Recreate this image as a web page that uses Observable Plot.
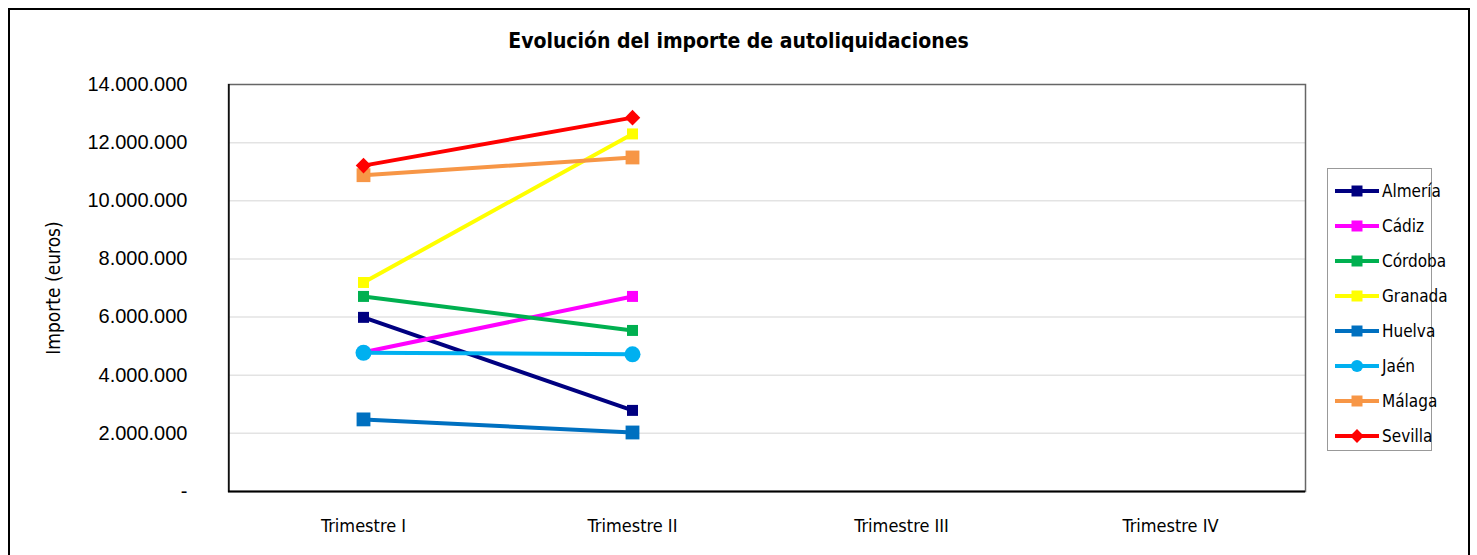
<!DOCTYPE html>
<html>
<head>
<meta charset="utf-8">
<script src="https://cdn.jsdelivr.net/npm/d3@7"></script>
<script src="https://cdn.jsdelivr.net/npm/@observablehq/plot@0.6"></script>
<style>
  html, body { margin: 0; padding: 0; background: #fff; }
  #wrap { position: relative; width: 1477px; height: 555px; overflow: hidden; }
  #border { position: absolute; left: 8px; top: 8px; width: 1462px; height: 600px; border: 2px solid #000; box-sizing: border-box; pointer-events: none; }
  #title { position: absolute; left: 0; width: 1477px; top: 29px; text-align: center; font-family: "DejaVu Sans Condensed", "Liberation Sans Narrow", sans-serif; font-weight: bold; font-size: 21px; color: #000; }
  #legend { position: absolute; left: 1327px; top: 168px; width: 105px; height: 283px; border: 1px solid #999; box-sizing: border-box; background: #fff; font-family: "DejaVu Sans Condensed", "Liberation Sans Narrow", sans-serif; font-size: 17px; color: #000; }
  .item { position: absolute; left: 7px; height: 24px; display: flex; align-items: center; }
  .item svg { display: block; }
  .item span { margin-left: 1px; }
  #chart svg { font-family: "Liberation Sans", Arial, sans-serif; }
</style>
</head>
<body>
<div id="wrap">
  <div id="chart"></div>
  <div id="title">Evolución del importe de autoliquidaciones</div>
  <div id="legend"></div>
  <div id="border"></div>
</div>
<script>
const trimestres = ["Trimestre I", "Trimestre II", "Trimestre III", "Trimestre IV"];
const provincias = ["Almería", "Cádiz", "Córdoba", "Granada", "Huelva", "Jaén", "Málaga", "Sevilla"];
const importeTrimestreI  = [5990000, 4790000, 6710000, 7190000, 2480000, 4770000, 10880000, 11210000];
const importeTrimestreII = [2790000, 6710000, 5540000, 12300000, 2030000, 4720000, 11490000, 12860000];
const yTicks = [0, 2000000, 4000000, 6000000, 8000000, 10000000, 12000000, 14000000];

const colores = ["#000080", "#ff00ff", "#00b050", "#ffff00", "#0070c0", "#00b0f0", "#f79646", "#ff0000"];
const simbolos = ["square", "square", "square", "square", "square", "circle", "square", "diamond2"];
const radios = [6.2, 6.2, 6.2, 6.2, 7.8, 8, 7.8, 7];

const rows = [];
provincias.forEach((p, i) => {
  rows.push({provincia: p, trimestre: trimestres[0], importe: importeTrimestreI[i]});
  rows.push({provincia: p, trimestre: trimestres[1], importe: importeTrimestreII[i]});
});

const fmt = v => v === 0 ? "-" : d3.format(",")(v).replace(/,/g, ".");
const symMap = {square: d3.symbolSquare, circle: d3.symbolCircle, diamond2: d3.symbolDiamond2};

const chart = Plot.plot({
  width: 1477,
  height: 555,
  marginLeft: 228,
  marginRight: 172,
  marginTop: 84,
  marginBottom: 64,
  style: {background: "transparent", fontSize: "20px", color: "#000"},
  x: {type: "point", domain: trimestres, padding: 0.5, label: null},
  y: {domain: [0, 14000000], label: null},
  color: {domain: provincias, range: colores},
  marks: [
    Plot.ruleY(yTicks.slice(1, -1), {stroke: "#e3e3e3", strokeWidth: 1.5}),
    Plot.frame({stroke: "#666", strokeWidth: 1.5}),
    Plot.ruleX([trimestres[0]], {stroke: "#000", strokeWidth: 1.5, dx: -134.6}),
    Plot.ruleY([0], {stroke: "#000", strokeWidth: 2}),
    Plot.axisY({ticks: yTicks, tickFormat: fmt, tickSize: 0, tickPadding: 41, fontSize: 20,
      label: "Importe (euros)", labelAnchor: "center", labelArrow: "none", labelOffset: 182}),
    Plot.axisX({tickSize: 0, tickPadding: 28, fontSize: 18, fontFamily: "DejaVu Sans Condensed, Liberation Sans Narrow, sans-serif"}),
    Plot.line(rows, {x: "trimestre", y: "importe", z: "provincia", stroke: "provincia", strokeWidth: 4}),
    ...provincias.map((p, i) => Plot.dot(rows.filter(d => d.provincia === p),
      {x: "trimestre", y: "importe", fill: colores[i], symbol: symMap[simbolos[i]], r: radios[i], stroke: "none"}))
  ]
});
document.getElementById("chart").appendChild(chart);
d3.select(chart).selectAll("g[aria-label='y-axis label'] text").attr("font-size", 19)
  .attr("font-family", "DejaVu Sans Condensed, Liberation Sans Narrow, sans-serif");

// legend
const legend = document.getElementById("legend");
provincias.forEach((p, i) => {
  const div = document.createElement("div");
  div.className = "item";
  div.style.top = (10 + i * 35) + "px";
  const s = d3.create("svg").attr("width", 46).attr("height", 20);
  s.append("line").attr("x1", 0).attr("x2", 44).attr("y1", 10).attr("y2", 10)
    .attr("stroke", colores[i]).attr("stroke-width", 4);
  s.append("path").attr("transform", "translate(22,10)")
    .attr("d", d3.symbol(symMap[simbolos[i]], Math.PI * 6.2 * 6.2 * (simbolos[i] === "circle" ? 0.95 : 1))())
    .attr("fill", colores[i]);
  div.appendChild(s.node());
  const sp = document.createElement("span");
  sp.textContent = p;
  div.appendChild(sp);
  legend.appendChild(div);
});
</script>
</body>
</html>
